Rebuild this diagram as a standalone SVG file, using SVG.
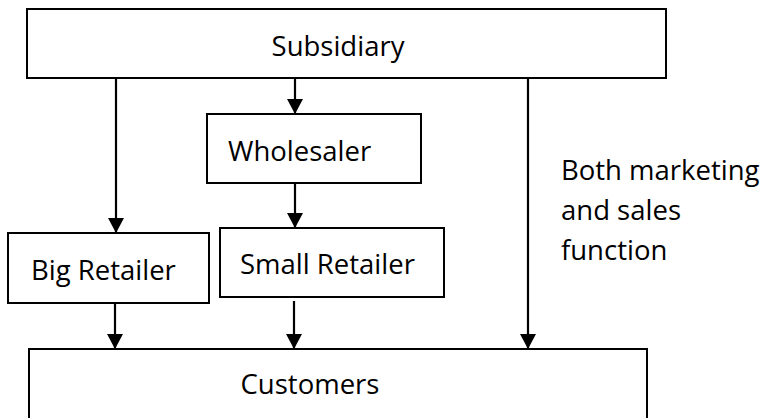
<svg xmlns="http://www.w3.org/2000/svg" width="763" height="418" viewBox="0 0 763 418">
  <style>
    .box { fill: #ffffff; stroke: #000000; stroke-width: 2; }
    .lbl { font-family: "Open Sans", "Noto Sans", sans-serif; font-size: 27.5px; fill: #000000; }
    .wire { stroke: #000000; stroke-width: 2.2; fill: none; marker-end: url(#arrow); }
  </style>
  <defs>
    <marker id="arrow" markerWidth="15" markerHeight="16" refX="15" refY="8" orient="auto" markerUnits="userSpaceOnUse">
      <path d="M0,0 L15,8 L0,16 Z" fill="#000000"/>
    </marker>
  </defs>

  <g id="subsidiary">
    <rect class="box" x="27" y="9" width="639" height="69"/>
    <text class="lbl" x="338" y="56" text-anchor="middle">Subsidiary</text>
  </g>

  <g id="wholesaler">
    <rect class="box" x="207" y="114" width="214" height="69"/>
    <text class="lbl" x="228" y="161">Wholesaler</text>
  </g>

  <g id="big-retailer">
    <rect class="box" x="8" y="233" width="201" height="70"/>
    <text class="lbl" x="31" y="280">Big Retailer</text>
  </g>

  <g id="small-retailer">
    <rect class="box" x="220" y="228" width="224" height="69"/>
    <text class="lbl" x="240" y="274">Small Retailer</text>
  </g>

  <g id="customers">
    <rect class="box" x="29" y="349" width="618" height="70"/>
    <text class="lbl" x="310" y="394" text-anchor="middle">Customers</text>
  </g>

  <g id="note">
    <text class="lbl" x="561" y="180">Both marketing</text>
    <text class="lbl" x="561" y="220">and sales</text>
    <text class="lbl" x="561" y="260">function</text>
  </g>

  <g id="connectors">
    <line class="wire" x1="116" y1="78" x2="116" y2="233"/>
    <line class="wire" x1="295" y1="78" x2="295" y2="114"/>
    <line class="wire" x1="528" y1="78" x2="528" y2="349"/>
    <line class="wire" x1="295" y1="183" x2="295" y2="228"/>
    <line class="wire" x1="115" y1="303" x2="115" y2="349"/>
    <line class="wire" x1="294" y1="301" x2="294" y2="349"/>
  </g>
</svg>
